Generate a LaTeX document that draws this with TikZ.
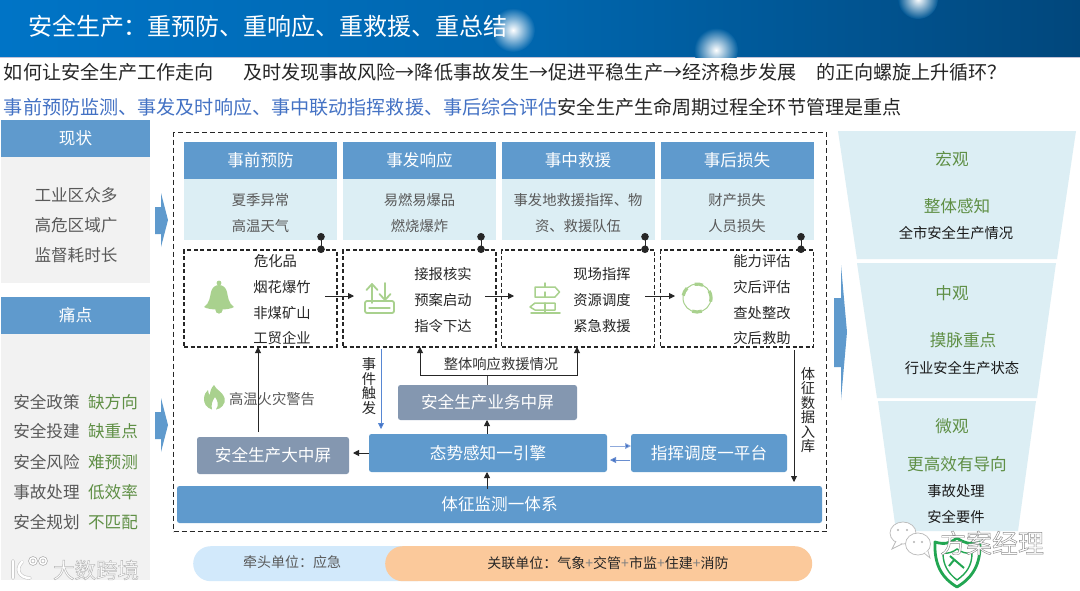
\documentclass[tikz,border=0pt]{standalone}
\usepackage{fontspec}
\setmainfont{Noto Sans CJK SC}
\usetikzlibrary{arrows.meta,shadings}
\definecolor{hblue}{HTML}{5F9ACD}
\definecolor{slate}{HTML}{8497B0}
\definecolor{pale}{HTML}{DCEEF4}
\definecolor{lgray}{HTML}{F2F2F2}
\definecolor{tgray}{HTML}{595959}
\definecolor{tgreen}{HTML}{5F8F45}
\definecolor{igreen}{HTML}{A9D18E}
\definecolor{ablue}{HTML}{4472C4}
\definecolor{lineblue}{HTML}{1F5FC4}
\definecolor{dark}{HTML}{262626}
\definecolor{peach}{HTML}{FBC99B}
\definecolor{lblue}{HTML}{D2E9FB}
\definecolor{hdrL}{HTML}{0074C6}
\definecolor{hdr}{HTML}{0066AE}
\definecolor{hdrR}{HTML}{01477C}
\definecolor{shieldg}{HTML}{22A652}
\newcommand{\fsA}{\fontsize{14.3}{17}\selectfont}
\newcommand{\fsB}{\fontsize{16.6}{20}\selectfont}
\newcommand{\fsV}{\fontsize{14.3}{14.5}\selectfont}
\newcommand{\outl}[1]{\special{pdf:code 2 Tr 0.45 w 0.55 G}#1\special{pdf:code 0 Tr}}
\newcommand{\outlb}[1]{\special{pdf:code 2 Tr 0.5 w 0.72 G}#1\special{pdf:code 0 Tr}}
\tikzset{
  t/.style={inner sep=0pt,outer sep=0pt,font=\fsA},
  tg/.style={t,text=tgray},
  tk/.style={t,text=black!85},
  tgr/.style={t,font=\fsB,text=tgreen},
  head/.style={fill=hblue,inner sep=0pt,outer sep=0pt,anchor=north west,text=white,font=\fsB,align=center},
  bodyb/.style={fill=pale,anchor=north west,inner sep=0pt,outer sep=0pt},
  sidebody/.style={fill=lgray,anchor=north west,inner sep=0pt,outer sep=0pt},
  dbox/.style={draw=black!85,line width=1.1pt,dash pattern=on 4pt off 2.6pt,anchor=north west,inner sep=0pt,outer sep=0pt},
  bar/.style={rounded corners=2.5pt,inner sep=0pt,outer sep=0pt,anchor=north west,text=white,font=\fsB,align=center},
  bluebar/.style={bar,fill=hblue},
  slatebar/.style={bar,fill=slate},
  conn/.style={draw=dark,line width=0.9pt,-{Triangle[length=6pt,width=6pt]}},
  plainc/.style={draw=dark!80,line width=0.9pt},
  blueconn/.style={draw=lineblue!75,line width=0.8pt,-{Triangle[length=6pt,width=6pt,fill=ablue]}},
  pin/.style={draw=dark,line width=1pt,{Circle[length=7.5pt,width=7.5pt]}-{Circle[length=7.5pt,width=7.5pt]}},
  bigarrow/.style={fill=hblue,draw=none},
  icon/.style={draw=igreen,line width=1.8pt,fill=none,line cap=round,line join=round},
}
\begin{document}
\begin{tikzpicture}[x=1pt,y=-1pt]
\useasboundingbox (0,0) rectangle (1080,590);
\fill[white] (0,0) rectangle (1080,590);
% title band
\shade[left color=hdrL,right color=hdrR,middle color=hdr] (0,0) rectangle (1080,56.5);
\fill[blue!20!gray!40] (0,56.5) rectangle (1080,57.5);
\begin{scope}
\clip (0,0) rectangle (1080,57);
\shade[inner color=white,outer color=hdr] (513,30) circle (22);
\shade[inner color=white,outer color=hdr!92!black] (716,50) circle (22);
\shade[inner color=white,outer color=hdr!85!black] (918,-1) circle (20);
\end{scope}
\node[t,anchor=west,text=white,font=\fontsize{24}{28}\selectfont] (title) at (28,26) {安全生产：重预防、重响应、重救援、重总结};
\node[t,anchor=west,text=black!85,font=\fontsize{19.1}{22}\selectfont] (q1) at (4,72) {如何让安全生产工作走向};
\node[t,anchor=west,text=black!85,font=\fontsize{19.1}{22}\selectfont] (q2) at (243,72) {及时发现事故风险→降低事故发生→促进平稳生产→经济稳步发展};
\node[t,anchor=west,text=black!85,font=\fontsize{19.1}{22}\selectfont] (q3) at (816,72) {的正向螺旋上升循环？};
\node[t,anchor=west,font=\fontsize{19.1}{22}\selectfont] (q4) at (4,107) {\textcolor{ablue}{事前预防监测、事发及时响应、事中联动指挥救援、事后综合评估}\textcolor{black!85}{安全生产生命周期过程全环节管理是重点}};

% left panels
\node[head,minimum width=149pt,minimum height=37pt] (xz) at (1,120) {现状};
\node[sidebody,minimum width=149pt,minimum height=126pt] (xzb) at (1,157) {};
\node[tg,font=\fsB] (x1) at (76,195) {工业区众多};
\node[tg,font=\fsB] (x2) at (76,225) {高危区域广};
\node[tg,font=\fsB] (x3) at (76,255) {监督耗时长};
\node[head,minimum width=149pt,minimum height=37pt] (td) at (1,297) {痛点};
\node[sidebody,minimum width=149pt,minimum height=246pt] (tdb) at (1,334) {};
\foreach \n/\a/\b/\y in {1/安全政策/缺方向/402,2/安全投建/缺重点/431,3/安全风险/难预测/462,4/事故处理/低效率/492,5/安全规划/不匹配/522}{
  \node[tg,font=\fontsize{16.6}{20}\selectfont] (pa\n) at (46.5,\y) {\a};
  \node[t,text=tgreen,font=\fontsize{16.6}{20}\selectfont] (pb\n) at (113,\y) {\b};
}
\node[t,text=white,font=\fontsize{21.5}{24}\selectfont] (wm1) at (96,570) {\outlb{大数跨境}};
\draw[gray!45,line width=3.6pt,line cap=round] (13,561) -- (13,578) (22,562) .. controls (15,569) and (19,578) .. (30,578);
\draw[white,line width=2.4pt,line cap=round] (13,561) -- (13,578) (22,562) .. controls (15,569) and (19,578) .. (30,578);
\draw[gray!60,fill=white,line width=0.6pt] (33,561) circle (4.5) (43,561) circle (4.5);
\draw[gray!60,line width=0.6pt] (33,561) circle (2) (43,561) circle (2);
% left arrows
\fill[bigarrow] (155,207) -- (161,207) -- (161,193) -- (168,220) -- (161,247) -- (161,234) -- (155,234) -- cycle;
\fill[bigarrow] (155,412) -- (161,412) -- (161,398) -- (168,425) -- (161,452) -- (161,439) -- (155,439) -- cycle;
\fill[bigarrow] (834,298) -- (841,298) -- (841,265) -- (847,332) -- (841,400) -- (841,367) -- (834,367) -- cycle;

% main dashed box
\node[draw=black!85,line width=1.1pt,dash pattern=on 5pt off 3pt,anchor=north west,minimum width=653pt,minimum height=399pt,inner sep=0pt] (main) at (173,132) {};

% columns
\foreach \n/\x/\h in {1/184/事前预防,2/343/事发响应,3/501.5/事中救援,4/660.5/事后损失}{
  \node[head,minimum width=153pt,minimum height=37pt] (h\n) at (\x,142) {\h};
  \node[bodyb,minimum width=153pt,minimum height=61pt] (b\n) at (\x,179) {};
  \node[dbox,minimum width=153pt,minimum height=97pt] (d\n) at (\x,250) {};
}
\node[tg] (c11) at (h1.center |- 0,200) {夏季异常};
\node[tg] (c12) at (h1.center |- 0,226) {高温天气};
\node[tg] (c21) at (h2.center |- 0,200) {易燃易爆品};
\node[tg] (c22) at (h2.center |- 0,226) {燃烧爆炸};
\node[tg] (c31) at (h3.center |- 0,200) {事发地救援指挥、物};
\node[tg] (c32) at (h3.center |- 0,226) {资、救援队伍};
\node[tg] (c41) at (h4.center |- 0,200) {财产损失};
\node[tg] (c42) at (h4.center |- 0,226) {人员损失};

% pins
\foreach \n/\x in {1/321,2/481,3/645,4/801}{
  \coordinate (pt\n) at (\x,233);
  \coordinate (pb\n) at (\x,253);
  \draw[pin] (pt\n) -- (pb\n);
}

% list texts
\node[tk,anchor=west] (l11) at (254,261) {危化品};
\node[tk] (l12) at (282,287) {烟花爆竹};
\node[tk] (l13) at (282,313) {非煤矿山};
\node[tk] (l14) at (282,338) {工贸企业};
\node[tk] (l21) at (443,274) {接报核实};
\node[tk] (l22) at (443,300) {预案启动};
\node[tk] (l23) at (443,326) {指令下达};
\node[tk] (l31) at (602,274) {现场指挥};
\node[tk] (l32) at (602,300) {资源调度};
\node[tk] (l33) at (602,326) {紧急救援};
\node[tk] (l41) at (762,261) {能力评估};
\node[tk] (l42) at (762,287) {灾后评估};
\node[tk] (l43) at (762,313) {查处整改};
\node[tk] (l44) at (762,338) {灾后救助};

% icons
% bell
\fill[igreen] (219,283) circle (2.4);
\fill[igreen] (204,307) .. controls (210,303) and (210,296) .. (211,292) .. controls (212,287) and (216,285) .. (219,285) .. controls (222,285) and (226,287) .. (227,292) .. controls (228,296) and (228,303) .. (234,307) .. controls (229,310.5) and (209,310.5) .. (204,307) -- cycle;
\fill[igreen] (219,310) circle (3.6);
% tray
\draw[icon] (372,303) -- (372,284) (366.5,290) -- (372,284) -- (377.5,290);
\draw[icon] (385,283) -- (385,300) (379.5,294) -- (385,300) -- (390.5,294);
\draw[icon,rounded corners=2pt] (365,301) rectangle (394,313);
\draw[icon,line width=1.1pt] (369,308) -- (390,308);
% signpost
\draw[icon,line width=1.5pt] (531,313) -- (560,313) (545,313) -- (545,303) (545,297) -- (545,292) (545,287) -- (545,283);
\draw[icon,line width=1.5pt] (535,287) -- (555,287) -- (559.5,292) -- (555,297) -- (535,297) -- cycle;
\draw[icon,line width=1.5pt] (555,303) -- (535,303) -- (530,307) -- (535,310) -- (555,310) -- cycle;
% cycle
\draw[igreen,line width=1pt] (697,298) circle (14);
\draw[igreen,line width=3.2pt] (697,298) ++(70:14) arc[start angle=70,end angle=110,radius=14];
\draw[igreen,line width=3.2pt] (697,298) ++(-30:14) arc[start angle=-30,end angle=15,radius=14];
\draw[igreen,line width=3.2pt] (697,298) ++(190:14) arc[start angle=190,end angle=225,radius=14];
\draw[igreen,line width=3.2pt] (697,298) ++(-100:14) arc[start angle=-100,end angle=-65,radius=14];

% flow arrows between lists
\coordinate (f1a) at (325,296); \coordinate (f1b) at (354,296);
\coordinate (f2a) at (485,296); \coordinate (f2b) at (514,296);
\coordinate (f3a) at (645,296); \coordinate (f3b) at (675,296);
\draw[conn] (f1a) -- (f1b);
\draw[conn] (f2a) -- (f2b);
\draw[conn] (f3a) -- (f3b);

% lower bars
\node[slatebar,minimum width=152pt,minimum height=37pt] (dzp) at (197,437) {安全生产大中屏};
\node[bluebar,minimum width=238pt,minimum height=38pt] (tsgz) at (369,434) {态势感知一引擎};
\node[bluebar,minimum width=156pt,minimum height=38pt] (zhdd) at (631,434) {指挥调度一平台};
\node[slatebar,minimum width=179pt,minimum height=35pt] (ywzp) at (398,385) {安全生产业务中屏};
\node[bluebar,minimum width=645pt,minimum height=37pt] (tz) at (177,486) {体征监测一体系};

% flame
\fill[igreen] (214,385) .. controls (216,390) and (222,391) .. (224.5,398) .. controls (226,404) and (221,409) .. (216,409.5) .. controls (219,405) and (218,401) .. (215,397) .. controls (212,401) and (211,405) .. (212,409.5) .. controls (207,408) and (203.5,404) .. (204,398) .. controls (204.5,394) and (206,392) .. (208,390) .. controls (208,393) and (209,394) .. (210,395) .. controls (210,392) and (211,388) .. (214,385) -- cycle;
\node[tg] (gw) at (272,399) {高温火灾警告};

% connectors lower
\draw[conn] (258,432) coordinate (u1) -- (u1 |- d1.south);
\draw[blueconn] (381,349) coordinate (u2) -- (381,429);
\node[t,font=\fsV,text=black!85,align=center] (sjcf) at (369,386) {事\\件\\触\\发};
\draw[conn] (tsgz.west) -- ([xshift=-16pt]tsgz.west);
\coordinate (c1) at (487,486);
\draw[conn] ([yshift=-3pt]c1) -- (c1 |- tsgz.south);
\draw[conn] (c1 |- tsgz.north) -- (c1 |- ywzp.south);
\coordinate (br) at (487,375);
\draw[plainc] (c1 |- ywzp.north) -- (br);
\coordinate (brl) at (420,375);
\coordinate (brr) at (577,375);
\draw[conn] (br) -- (brl) -- (brl |- d2.south);
\draw[conn] (br) -- (brr) -- (brr |- d3.south);
\node[t] (ztxy) at (501,364) {\textcolor{black!80}{整体响应救援情况}};
\draw[draw=ablue!60,line width=0.8pt,-{Triangle[length=6pt,width=6pt,fill=ablue]}] (610,446) coordinate (z1) -- (z1 -| zhdd.west);
\draw[draw=ablue!80,line width=0.8pt,-{Triangle[length=6pt,width=6pt,fill=ablue]}] (630,460) coordinate (z2) -- (610,460);
\draw[conn] (794,350) coordinate (r1) -- (794,482);
\node[t,font=\fsV,text=black!85,align=center] (tzsj) at (808,410) {体\\征\\数\\据\\入\\库};

% pills
\node[fill=lblue,rounded corners=17.5pt,anchor=north west,minimum width=240pt,minimum height=35pt,inner sep=0pt] (pill1) at (193,546) {};
\node[fill=peach,rounded corners=17.5pt,anchor=north west,minimum width=427pt,minimum height=35pt,inner sep=0pt] (pill2) at (385,546) {};
\node[tg,font=\fontsize{14}{17}\selectfont] (p1t) at (292,562.5) {牵头单位：应急};
\node[tk,font=\fontsize{14}{17}\selectfont] (p2t) at (608,563.5) {关联单位：气象\textcolor{gray}{+}交管\textcolor{gray}{+}市监\textcolor{gray}{+}住建\textcolor{gray}{+}消防};

% funnel
\fill[pale] (838,131) -- (1076,131) -- (1057,259) -- (857,259) -- cycle;
\fill[pale] (857,263) -- (1056,263) -- (1037,398) -- (877,398) -- cycle;
\fill[pale] (878,401) -- (1036,401) -- (1018,531) -- (896,531) -- cycle;
\node[tgr] (m1) at (952,159) {宏观};
\node[tgr] (m2) at (957,206) {整体感知};
\node[t,text=black!90] (m3) at (956,233) {全市安全生产情况};
\node[tgr] (n1) at (952,293) {中观};
\node[tgr] (n2) at (963,340) {摸脉重点};
\node[t,text=black!90] (n3) at (962,368) {行业安全生产状态};
\node[tgr] (o1) at (952,426) {微观};
\node[tgr] (o2) at (957,464) {更高效有导向};
\node[t,text=black!90] (o3) at (956,491) {事故处理};
\node[t,text=black!90] (o4) at (956,517) {安全要件};

% shield
\draw[draw=shieldg,line width=2.8pt,line join=round] (935,542) .. controls (945,545) and (950,543) .. (957,538) .. controls (964,543) and (970,545) .. (980,542) .. controls (981,565) and (972,578) .. (957,587) .. controls (942,578) and (934,565) .. (935,542) -- cycle;
\draw[draw=shieldg,line width=1.4pt] (943,553) .. controls (948,554) and (953,552) .. (957,549) .. controls (961,552) and (966,554) .. (972,553) .. controls (972,565) and (967,573) .. (957,580) .. controls (948,573) and (943,565) .. (943,553) -- cycle;
\draw[draw=shieldg,line width=2pt] (950,556) -- (964,568) (954,560) -- (949,566);
% wechat mark
\draw[gray!55,fill=white,line width=0.7pt] (903,533) ellipse (13 and 11);
\draw[gray!55,fill=white,line width=0.7pt] (896,541) -- (892,549) -- (902,544);
\fill[gray!60] (898,530) circle (1.2) (907,530) circle (1.2);
\draw[gray!55,fill=white,line width=0.7pt] (918,544) ellipse (12.5 and 11);
\draw[gray!55,fill=white,line width=0.7pt] (924,553) -- (930,558) -- (928,551);
\fill[gray!60] (914,542) circle (1.2) (922,542) circle (1.2);
\node[t,text=white,font=\fontsize{26}{30}\selectfont] (wm2) at (992,543) {\outl{方案经理}};
\end{tikzpicture}
\end{document}
